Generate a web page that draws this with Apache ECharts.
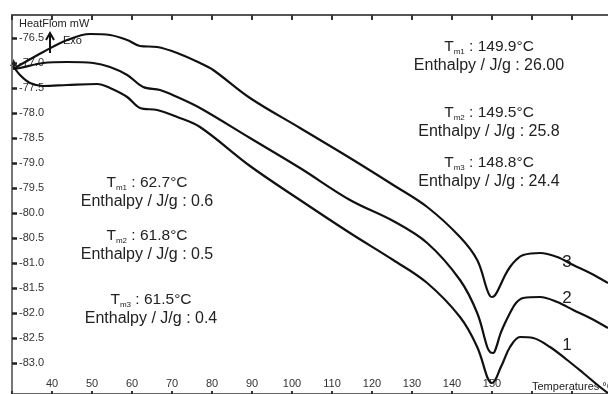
<!DOCTYPE html>
<html>
<head>
<meta charset="utf-8">
<script src="https://cdn.jsdelivr.net/npm/echarts@6/dist/echarts.min.js"></script>
<style>
  html, body { margin: 0; padding: 0; background: #fff; }
  #chart { width: 608px; height: 394px; }
</style>
</head>
<body>
<div id="chart"></div>
<script>
// curve 3 (top)
var temp3 = [30.3, 32, 37.8, 43.8, 49.5, 54.5, 58.8, 62, 66.3, 71.3, 77, 80.3, 89.5, 102, 114.5, 125.3, 133.8, 142, 146.3, 148.8, 149.5, 150, 150.8, 152, 153.3, 154.5, 156, 157.8, 162, 166.3, 170.3, 174.5, 179];
var heat3 = [-77.12, -77.04, -76.78, -76.54, -76.42, -76.44, -76.54, -76.66, -76.68, -76.80, -77.00, -77.14, -77.70, -78.30, -78.90, -79.44, -79.88, -80.48, -80.94, -81.54, -81.66, -81.68, -81.64, -81.46, -81.24, -81.08, -80.94, -80.84, -80.80, -80.88, -81.04, -81.20, -81.40];
// curve 2 (middle)
var temp2 = [30.3, 32, 37.8, 43.8, 50.3, 54.5, 58.8, 62.8, 67, 71.3, 77, 89.5, 102, 114.5, 125.3, 133.8, 142, 146.3, 148.8, 149.5, 150.3, 151, 152, 152.8, 154.5, 156, 157.8, 162, 166.3, 170.3, 174.5, 179];
var heat2 = [-77.12, -77.10, -77.00, -76.98, -77.00, -77.08, -77.24, -77.48, -77.54, -77.68, -77.90, -78.50, -79.10, -79.74, -80.16, -80.60, -81.34, -82.00, -82.68, -82.78, -82.80, -82.70, -82.44, -82.28, -82.00, -81.80, -81.70, -81.68, -81.78, -81.94, -82.10, -82.30];
// curve 1 (bottom)
var temp1 = [30.3, 32, 34.5, 37.8, 43.8, 51.3, 54.5, 58.8, 62, 66.3, 71.3, 77, 89.5, 102, 114.5, 125.3, 133.8, 142, 146.3, 148.8, 149.5, 150, 150.8, 152, 152.8, 154.5, 157, 160.3, 164.5, 168.8, 172.8, 177, 179];
var heat1 = [-77.06, -77.24, -77.40, -77.46, -77.44, -77.42, -77.50, -77.68, -77.90, -77.94, -78.08, -78.28, -79.06, -79.74, -80.40, -80.94, -81.40, -82.08, -82.68, -83.28, -83.38, -83.40, -83.34, -83.12, -82.98, -82.68, -82.48, -82.50, -82.68, -82.94, -83.20, -83.48, -83.60];

var xTickLabels = [40, 50, 60, 70, 80, 90, 100, 110, 120, 130, 140, 150];
var yTickLabels = [-76.5, -77, -77.5, -78, -78.5, -79, -79.5, -80, -80.5, -81, -81.5, -82, -82.5, -83];

var curveNames = ['1', '2', '3'];
var highTm = ['149.9', '149.5', '148.8'];
var highEnthalpy = ['26.00', '25.8', '24.4'];
var lowTm = ['62.7', '61.8', '61.5'];
var lowEnthalpy = ['0.6', '0.5', '0.4'];

function pairs(t, v) {
  return t.map(function (x, i) { return [x, v[i]]; });
}

var FONT = '"Liberation Sans", Arial, sans-serif';
var INK = '#222';

function tmText(x, y, idx, tm) {
  return {
    type: 'text', silent: true,
    style: {
      x: x, y: y,
      text: '{n|T}{s|m' + (idx + 1) + '}{n| : ' + tm + '°C}',
      align: 'center', textAlign: 'center',
      verticalAlign: 'middle', textVerticalAlign: 'middle',
      fill: INK,
      rich: {
        n: { fontSize: 15.5, fontFamily: FONT, fill: INK, lineHeight: 18 },
        s: { fontSize: 8, fontFamily: FONT, fill: INK, lineHeight: 10, verticalAlign: 'bottom' }
      }
    }
  };
}
function plainText(x, y, txt, size, align) {
  return {
    type: 'text', silent: true,
    style: {
      x: x, y: y, text: txt,
      font: size + 'px ' + FONT, fill: INK,
      align: align || 'center', textAlign: align || 'center',
      verticalAlign: 'middle', textVerticalAlign: 'middle'
    }
  };
}

var graphics = [];
// right-hand annotations (melting peak ~150 °C)
var highY = [47, 113, 163];
highTm.forEach(function (tm, i) {
  graphics.push(tmText(489, highY[i], i, tm));
  graphics.push(plainText(489, highY[i] + 19, 'Enthalpy / J/g : ' + highEnthalpy[i], 16));
});
// left annotations (small peak ~62 °C)
var lowY = [183, 236, 300];
var lowX = [147, 147, 151];
lowTm.forEach(function (tm, i) {
  graphics.push(tmText(lowX[i], lowY[i], i, tm));
  graphics.push(plainText(lowX[i], lowY[i] + 19, 'Enthalpy / J/g : ' + lowEnthalpy[i], 16));
});
// curve numbers
var nameY = [345, 298, 262];
curveNames.forEach(function (n, i) {
  graphics.push(plainText(567, nameY[i], n, 17));
});
graphics.push(plainText(19, 24, 'HeatFlom mW', 11, 'left'));
graphics.push(plainText(532, 387, 'Temperatures °C', 11, 'left'));
graphics.push(plainText(63, 41, 'Exo', 11, 'left'));
// exo arrow
graphics.push({
  type: 'line', silent: true,
  shape: { x1: 50, y1: 53, x2: 50, y2: 35 },
  style: { stroke: '#111', lineWidth: 2 }
});
graphics.push({
  type: 'polyline', silent: true,
  shape: { points: [[46, 40], [50, 33], [54, 40]] },
  style: { stroke: '#111', lineWidth: 2, fill: null }
});
graphics.push({
  type: 'polygon', silent: true,
  shape: { points: [[10, 66], [13.5, 59], [17, 66]] },
  style: { fill: '#222' }
});

var chart = echarts.init(document.getElementById('chart'));

var lineStyle = { color: '#111', width: 2.2 };

chart.setOption({
  backgroundColor: '#fff',
  animation: false,
  grid: { left: 12, top: 15, width: 600, height: 379, containLabel: false, outerBoundsMode: 'none' },
  xAxis: [{
    type: 'value', min: 30, max: 180, interval: 10, position: 'bottom',
    axisLine: { show: true, onZero: false, lineStyle: { color: '#666', width: 2 } },
    axisTick: { show: true, inside: true, length: 3, lineStyle: { color: '#333', width: 2 } },
    axisLabel: {
      inside: true, margin: 5, fontSize: 11, fontFamily: FONT, color: '#333',
      formatter: function (v) { return xTickLabels.indexOf(v) >= 0 ? String(v) : ''; }
    },
    splitLine: { show: false }
  }, {
    type: 'value', min: 30, max: 180, interval: 10, position: 'top',
    axisLine: { show: true, onZero: false, lineStyle: { color: '#555', width: 2 } },
    axisTick: { show: true, inside: true, length: 5, lineStyle: { color: '#333', width: 2 } },
    axisLabel: { show: false },
    splitLine: { show: false }
  }],
  yAxis: [{
    type: 'value', min: -83.62, max: -76.04, position: 'left',
    axisLine: { show: true, onZero: false, lineStyle: { color: '#777', width: 2 } },
    axisTick: { show: true, inside: true, length: 5, customValues: yTickLabels, lineStyle: { color: '#222', width: 2.5 } },
    axisLabel: {
      inside: true, margin: 7, fontSize: 11, fontFamily: FONT, color: '#333',
      customValues: yTickLabels,
      formatter: function (v) { return v.toFixed(1); }
    },
    splitLine: { show: false }
  }, {
    type: 'value', min: -83.62, max: -76.04, position: 'right',
    axisLine: { show: true, onZero: false, lineStyle: { color: '#555', width: 2 } },
    axisTick: { show: true, inside: true, length: 3, customValues: yTickLabels, lineStyle: { color: '#444', width: 2 } },
    axisLabel: { show: false },
    splitLine: { show: false }
  }],
  series: [
    { type: 'line', name: '3', data: pairs(temp3, heat3), showSymbol: false, smooth: 0.35, lineStyle: lineStyle, clip: true },
    { type: 'line', name: '2', data: pairs(temp2, heat2), showSymbol: false, smooth: 0.35, lineStyle: lineStyle, clip: true },
    { type: 'line', name: '1', data: pairs(temp1, heat1), showSymbol: false, smooth: 0.35, lineStyle: lineStyle, clip: true }
  ],
  graphic: graphics
});
</script>
</body>
</html>
